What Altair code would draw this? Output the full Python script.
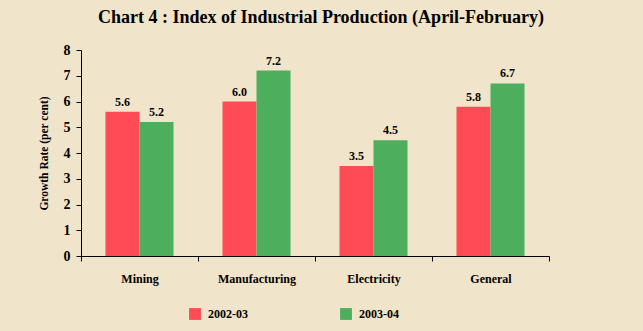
import altair as alt
import pandas as pd

categories = ["Mining", "Manufacturing", "Electricity", "General"]
series = ["2002-03", "2003-04"]
v2002 = [5.6, 6.0, 3.5, 5.8]
v2003 = [5.2, 7.2, 4.5, 6.7]

rows = []
for c, a, b in zip(categories, v2002, v2003):
    rows.append({"cat": c, "year": series[0], "val": a})
    rows.append({"cat": c, "year": series[1], "val": b})
df = pd.DataFrame(rows)

FONT = "Liberation Serif"

x = alt.X("cat:N", sort=categories, title=None,
          scale=alt.Scale(paddingInner=0, paddingOuter=0),
          axis=alt.Axis(labelAngle=0, tickBand="extent", labelFont=FONT, labelFontWeight="bold",
                        labelFontSize=12, labelColor="black", domainColor="black", tickColor="black",
                        tickSize=5, labelPadding=12))
xo = alt.XOffset("year:N", sort=series, scale=alt.Scale(paddingInner=0, paddingOuter=0.72))
y = alt.Y("val:Q", title="Growth Rate (per cent)",
          scale=alt.Scale(domain=[0, 8]),
          axis=alt.Axis(values=list(range(0, 9)), grid=False, labelFont=FONT, labelFontWeight="bold",
                        labelFontSize=14, labelColor="black", domainColor="black", tickColor="black",
                        tickSize=5, labelPadding=6, titleFont=FONT, titleFontWeight="bold",
                        titleFontSize=11.5, titleColor="black", titlePadding=14))

color = alt.Color("year:N", sort=series, title=None,
                  scale=alt.Scale(domain=series, range=["#FF4B55", "#4DAF5E"]),
                  legend=alt.Legend(orient="none", legendX=108, legendY=258, direction="horizontal",
                                    symbolType="square", symbolSize=140, symbolStrokeWidth=0,
                                    symbolOpacity=1, labelFont=FONT, labelFontWeight="bold",
                                    labelFontSize=12, labelColor="black", columnPadding=92,
                                    labelOffset=7))

bars = alt.Chart(df).mark_bar(opacity=1).encode(x=x, xOffset=xo, y=y, color=color)
text = alt.Chart(df).mark_text(dy=-10, font=FONT, fontWeight="bold", fontSize=12, color="black").encode(
    x=x, xOffset=xo, y=y, text=alt.Text("val:Q", format=".1f"))

chart = (bars + text).properties(
    width=468, height=206,
    title=alt.Title("Chart 4 : Index of Industrial Production (April-February)", font=FONT,
                    fontSize=18, fontWeight="bold", color="black", anchor="middle", offset=16, dx=6),
    background="#F0E5CA",
    autosize=alt.AutoSizeParams(type="none"),
    padding={"left": 81, "top": 50, "right": 94, "bottom": 75},
).configure_view(stroke=None)

chart.save("out.html", embed_options={"renderer": "svg", "actions": False})
